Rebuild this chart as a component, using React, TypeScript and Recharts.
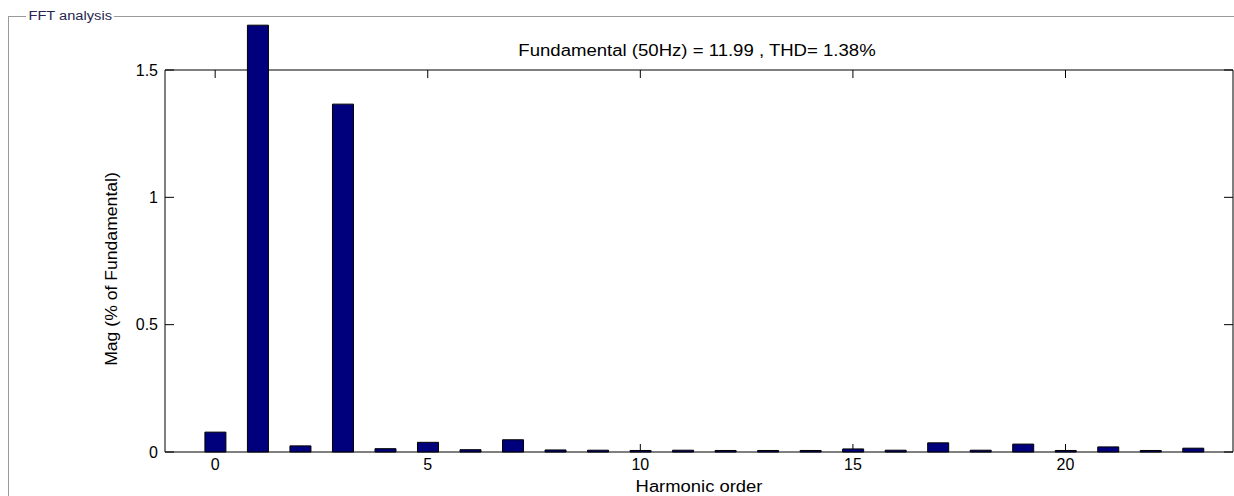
import { BarChart, Bar, XAxis, YAxis } from "recharts";

// FFT harmonic spectrum, magnitudes in % of the 50 Hz fundamental
const HARMONIC_ORDER = [
  0, 1, 2, 3, 4, 5, 6, 7, 8, 9, 10, 11, 12, 13, 14, 15, 16, 17, 18, 19, 20, 21, 22, 23,
];
const MAG_PCT = [
  0.078, 1.676, 0.024, 1.366, 0.013, 0.038, 0.009, 0.048, 0.008, 0.007, 0.006, 0.007,
  0.006, 0.006, 0.006, 0.012, 0.007, 0.036, 0.007, 0.031, 0.006, 0.02, 0.006, 0.015,
];
const X_TICKS = [0, 5, 10, 15, 20];
const Y_TICKS = [0, 0.5, 1, 1.5];
const X_DOMAIN = [-1.18, 23.94];
const Y_DOMAIN = [0, 1.5];

const data = HARMONIC_ORDER.map((h, i) => ({ h, mag: MAG_PCT[i] }));

const FONT = '"Liberation Sans", Arial, sans-serif';
const tickStyle = { fill: "#000", fontSize: 16, fontFamily: FONT };

// box axes (top / right) keep their tick marks but carry no labels
const NoLabel = () => <g />;

export default function App() {
  return (
    <div
      style={{
        position: "absolute",
        left: 0,
        top: 0,
        width: 1234,
        height: 496,
        background: "#fff",
        fontFamily: FONT,
        overflow: "hidden",
      }}
    >
      {/* MATLAB lets the tall bars run over the axes box, so undo recharts' clip */}
      <style>{`.recharts-bar-rectangles{clip-path:none !important}`}</style>

      {/* panel frame */}
      <div style={{ position: "absolute", left: 8, top: 16, width: 1240, height: 500, borderLeft: "1px solid #9a9a9a", borderTop: "1px solid #9a9a9a" }} />
      <div
        style={{
          position: "absolute",
          left: 26,
          top: 9,
          padding: "0 2px",
          background: "#fff",
          color: "#262650",
          fontSize: 12,
          lineHeight: "14px",
          whiteSpace: "nowrap",
          transform: "scaleX(1.22)",
          transformOrigin: "left center",
        }}
      >
        FFT analysis
      </div>

      <BarChart
        width={1234}
        height={496}
        data={data}
        margin={{ top: 69, right: 0, bottom: 0, left: 105 }}
        barSize={21}
        style={{ position: "absolute", left: 0, top: 0 }}
      >
        <XAxis
          xAxisId="bottom"
          dataKey="h"
          type="number"
          domain={X_DOMAIN}
          ticks={X_TICKS}
          allowDataOverflow
          height={44}
          stroke="#000"
          tickSize={-8}
          tickMargin={15}
          tick={tickStyle}
        />
        <XAxis
          xAxisId="top"
          orientation="top"
          dataKey="h"
          type="number"
          domain={X_DOMAIN}
          ticks={X_TICKS}
          allowDataOverflow
          height={1}
          stroke="#000"
          tickSize={-8}
          tick={NoLabel}
        />
        <YAxis
          yAxisId="left"
          type="number"
          domain={Y_DOMAIN}
          ticks={Y_TICKS}
          allowDataOverflow
          width={60}
          stroke="#000"
          tickSize={-9}
          tickMargin={16}
          tick={tickStyle}
        />
        <YAxis
          yAxisId="right"
          orientation="right"
          type="number"
          domain={Y_DOMAIN}
          ticks={Y_TICKS}
          allowDataOverflow
          width={1}
          stroke="#000"
          tickSize={-9}
          tick={NoLabel}
        />
        <Bar
          xAxisId="bottom"
          yAxisId="left"
          dataKey="mag"
          fill="#00007c"
          stroke="#000"
          strokeWidth={1}
          zIndex={600}
          isAnimationActive={false}
        />
      </BarChart>

      <div
        style={{
          position: "absolute",
          left: 697,
          top: 51,
          fontSize: 16,
          whiteSpace: "nowrap",
          transform: "translate(-50%, -50%) scaleX(1.16)",
        }}
      >
        Fundamental (50Hz) = 11.99 , THD= 1.38%
      </div>
      <div
        style={{
          position: "absolute",
          left: 699,
          top: 487,
          fontSize: 16,
          whiteSpace: "nowrap",
          transform: "translate(-50%, -50%) scaleX(1.15)",
        }}
      >
        Harmonic order
      </div>
      <div
        style={{
          position: "absolute",
          left: 112,
          top: 269,
          fontSize: 16,
          whiteSpace: "nowrap",
          transform: "translate(-50%, -50%) rotate(-90deg) scaleX(1.1)",
        }}
      >
        Mag (% of Fundamental)
      </div>
    </div>
  );
}
